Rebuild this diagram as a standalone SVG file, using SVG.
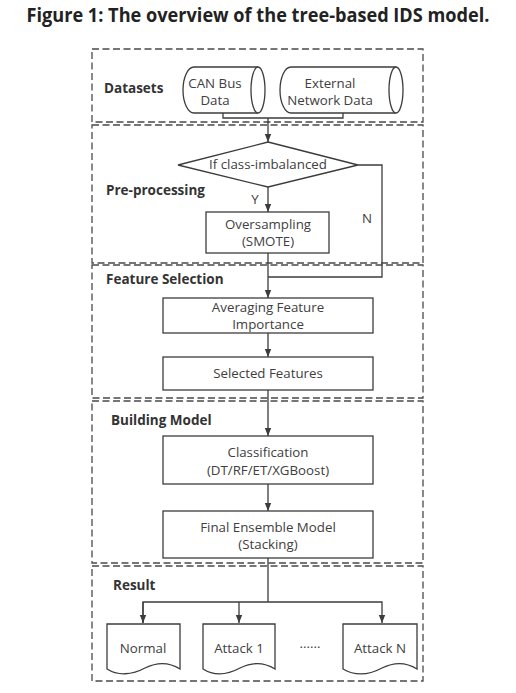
<svg xmlns="http://www.w3.org/2000/svg" width="516" height="693" viewBox="0 0 516 693">
<defs>
<style>
.frame{fill:none;stroke:#4a4a4a;stroke-width:1.3;stroke-dasharray:7 3.5}
.shape{fill:#fff;stroke:#3c3c3c;stroke-width:1.3}
.line{fill:none;stroke:#3c3c3c;stroke-width:1.3}
.t{font-family:"Open Sans","Noto Sans","DejaVu Sans",sans-serif;font-size:13.3px;fill:#404040;text-anchor:middle}
.sec{font-family:"Open Sans","Noto Sans","DejaVu Sans",sans-serif;font-size:13.5px;font-weight:bold;fill:#333}
.title{font-family:"Open Sans","Noto Sans","DejaVu Sans",sans-serif;font-size:19px;font-weight:bold;fill:#222;text-anchor:middle}
</style>
<marker id="arr" viewBox="0 0 10 10" refX="10" refY="5" markerWidth="8" markerHeight="8" markerUnits="userSpaceOnUse" orient="auto">
<path d="M0,1 L10,5 L0,9 Z" fill="#3c3c3c"/>
</marker>
</defs>
<rect width="516" height="693" fill="#fff"/>
<text class="title" x="258" y="21.5" textLength="463" lengthAdjust="spacingAndGlyphs">Figure 1: The overview of the tree-based IDS model.</text>

<g id="frames">
<rect class="frame" x="92" y="49" width="331" height="73"/>
<rect class="frame" x="92" y="125" width="331" height="138"/>
<rect class="frame" x="92" y="265" width="331" height="133"/>
<rect class="frame" x="92" y="401" width="331" height="162"/>
<rect class="frame" x="92" y="566" width="331" height="115"/>
</g>

<g id="labels">
<text class="sec" x="104" y="93">Datasets</text>
<text class="sec" x="106" y="195">Pre-processing</text>
<text class="sec" x="106" y="284">Feature Selection</text>
<text class="sec" x="111" y="425">Building Model</text>
<text class="sec" x="113" y="590">Result</text>
</g>

<g id="connectors">
<path class="line" d="M223,113 V118 H343 V113"/>
<path class="line" d="M268,118 V142" marker-end="url(#arr)"/>
<path class="line" d="M268,187 V212" marker-end="url(#arr)"/>
<path class="line" d="M358,165 H382 V277 H268"/>
<path class="line" d="M268,253 V298" marker-end="url(#arr)"/>
<path class="line" d="M268,333 V357" marker-end="url(#arr)"/>
<path class="line" d="M268,390 V436" marker-end="url(#arr)"/>
<path class="line" d="M268,484 V511" marker-end="url(#arr)"/>
<path class="line" d="M268,558 V602"/>
<path class="line" d="M143,623 V602 H382 V623" marker-end="url(#arr)"/>
<path class="line" d="M143,602 V623" marker-end="url(#arr)"/>
<path class="line" d="M239,602 V623" marker-end="url(#arr)"/>
<text class="t" x="255" y="204">Y</text>
<text class="t" x="367" y="223">N</text>
</g>

<g id="can-bus">
<path class="shape" d="M258,67 H194 A11,23 0 0 0 194,113 H258"/>
<ellipse class="shape" cx="258" cy="90" rx="7" ry="23"/>
<text class="t" x="215" y="88">CAN Bus</text>
<text class="t" x="215" y="105">Data</text>
</g>

<g id="external">
<path class="shape" d="M396,67 H291 A11,23 0 0 0 291,113 H396"/>
<ellipse class="shape" cx="396" cy="90" rx="7" ry="23"/>
<text class="t" x="330" y="88">External</text>
<text class="t" x="330" y="105">Network Data</text>
</g>

<g id="decision">
<polygon class="shape" points="268,142 358,165 268,187 178,165"/>
<text class="t" x="268" y="169">If class-imbalanced</text>
</g>

<g id="oversampling">
<rect class="shape" x="206" y="212" width="123" height="41"/>
<text class="t" x="268" y="229">Oversampling</text>
<text class="t" x="268" y="246">(SMOTE)</text>
</g>

<g id="averaging">
<rect class="shape" x="163" y="298" width="210" height="35"/>
<text class="t" x="268" y="311.5" font-size="13">Averaging Feature</text>
<text class="t" x="268" y="328.5" font-size="13">Importance</text>
</g>

<g id="selected">
<rect class="shape" x="163" y="357" width="210" height="33"/>
<text class="t" x="268" y="378">Selected Features</text>
</g>

<g id="classification">
<rect class="shape" x="163" y="436" width="210" height="48"/>
<text class="t" x="268" y="457">Classification</text>
<text class="t" x="268" y="475">(DT/RF/ET/XGBoost)</text>
</g>

<g id="ensemble">
<rect class="shape" x="163" y="511" width="210" height="47"/>
<text class="t" x="268" y="532">Final Ensemble Model</text>
<text class="t" x="268" y="549">(Stacking)</text>
</g>

<g id="normal">
<path class="shape" d="M107,624 H180 V669 C169,662 157,662 145,668 C132,675 118,676 107,669 Z"/>
<text class="t" x="143" y="653">Normal</text>
</g>

<g id="attack1">
<path class="shape" d="M203,624 H275 V669 C264,662 252,662 240,668 C227,675 214,676 203,669 Z"/>
<text class="t" x="239" y="653">Attack 1</text>
</g>

<text class="t" x="310" y="648" font-size="7">......</text>

<g id="attackN">
<path class="shape" d="M343,624 H417 V669 C406,662 394,662 382,668 C369,675 355,676 343,669 Z"/>
<text class="t" x="380" y="653">Attack N</text>
</g>
</svg>
